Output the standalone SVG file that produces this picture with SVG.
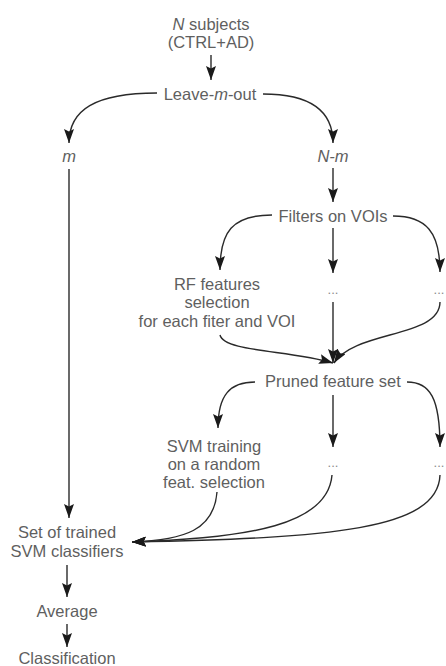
<svg xmlns="http://www.w3.org/2000/svg" width="446" height="666" viewBox="0 0 446 666">
<style>
  .t { font-family: "Liberation Sans", Arial, sans-serif; font-size: 16.5px; fill: #5f5f5f; text-anchor: middle; }
  .d { font-family: "Liberation Sans", Arial, sans-serif; font-size: 13px; fill: #8a8a8a; text-anchor: middle; }
  .i { font-style: italic; }
  .c { fill: none; stroke: #2a2a2a; stroke-width: 1.4; }
  .a { marker-end: url(#ah); }
</style>
<defs>
  <marker id="ah" viewBox="0 0 14 10" markerWidth="14" markerHeight="10" refX="14" refY="5" orient="auto" markerUnits="userSpaceOnUse">
    <path d="M0,0 L14,5 L0,10 L2.5,5 z" fill="#1a1a1a"/>
  </marker>
</defs>
<rect width="446" height="666" fill="#ffffff"/>
<g id="connectors">
  <path class="c a" d="M211,55 L211,80"/>
  <path class="c a" d="M157,93 C95,93 69,110 69,143"/>
  <path class="c a" d="M263,94 C310,94 333,110 333,143"/>
  <path class="c a" d="M69,169 L69,518"/>
  <path class="c a" d="M333,168 L333,202"/>
  <path class="c a" d="M272,215 C232,215 220,232 220,270"/>
  <path class="c a" d="M333,228 L333,273"/>
  <path class="c a" d="M393,216 C426,216 440,232 440,272"/>
  <path class="c a" d="M220,335 C224,352 290,350 333,363"/>
  <path class="c a" d="M333,302 L333,363"/>
  <path class="c a" d="M440,302 C440,338 355,330 334,363"/>
  <path class="c a" d="M255,382 C230,382 218,395 218,428"/>
  <path class="c a" d="M333,395 L333,447"/>
  <path class="c a" d="M407,382 C430,382 440,398 440,447"/>
  <path class="c a" d="M217,492 C214,530 185,540 132,542"/>
  <path class="c a" d="M332,475 C328,525 250,538 132,542"/>
  <path class="c a" d="M440,475 C438,530 330,538 132,542"/>
  <path class="c a" d="M67,565 L67,597"/>
  <path class="c a" d="M67,624 L67,647"/>
</g>
<g id="n-subjects">
  <text class="t" x="211" y="30"><tspan class="i">N</tspan> subjects</text>
  <text class="t" x="211" y="48">(CTRL+AD)</text>
</g>
<g id="leave-m-out">
  <text class="t" x="210" y="100">Leave-<tspan class="i">m</tspan>-out</text>
</g>
<g id="m">
  <text class="t i" x="69" y="162">m</text>
</g>
<g id="n-m">
  <text class="t i" x="333" y="162">N-m</text>
</g>
<g id="filters">
  <text class="t" x="333" y="222">Filters on VOIs</text>
</g>
<g id="rf-features">
  <text class="t" x="217" y="290">RF features</text>
  <text class="t" x="217" y="308">selection</text>
  <text class="t" x="217" y="327">for each fiter and VOI</text>
</g>
<g id="dots1">
  <text class="d" x="333" y="294">...</text>
</g>
<g id="dots2">
  <text class="d" x="439" y="294">...</text>
</g>
<g id="pruned">
  <text class="t" x="333" y="387">Pruned feature set</text>
</g>
<g id="svm-training">
  <text class="t" x="214" y="452">SVM training</text>
  <text class="t" x="214" y="470">on a random</text>
  <text class="t" x="214" y="488">feat. selection</text>
</g>
<g id="dots3">
  <text class="d" x="333" y="467">...</text>
</g>
<g id="dots4">
  <text class="d" x="439" y="467">...</text>
</g>
<g id="set-trained">
  <text class="t" x="67" y="538">Set of trained</text>
  <text class="t" x="67" y="557">SVM classifiers</text>
</g>
<g id="average">
  <text class="t" x="67" y="617">Average</text>
</g>
<g id="classification">
  <text class="t" x="67" y="664">Classification</text>
</g>
</svg>
